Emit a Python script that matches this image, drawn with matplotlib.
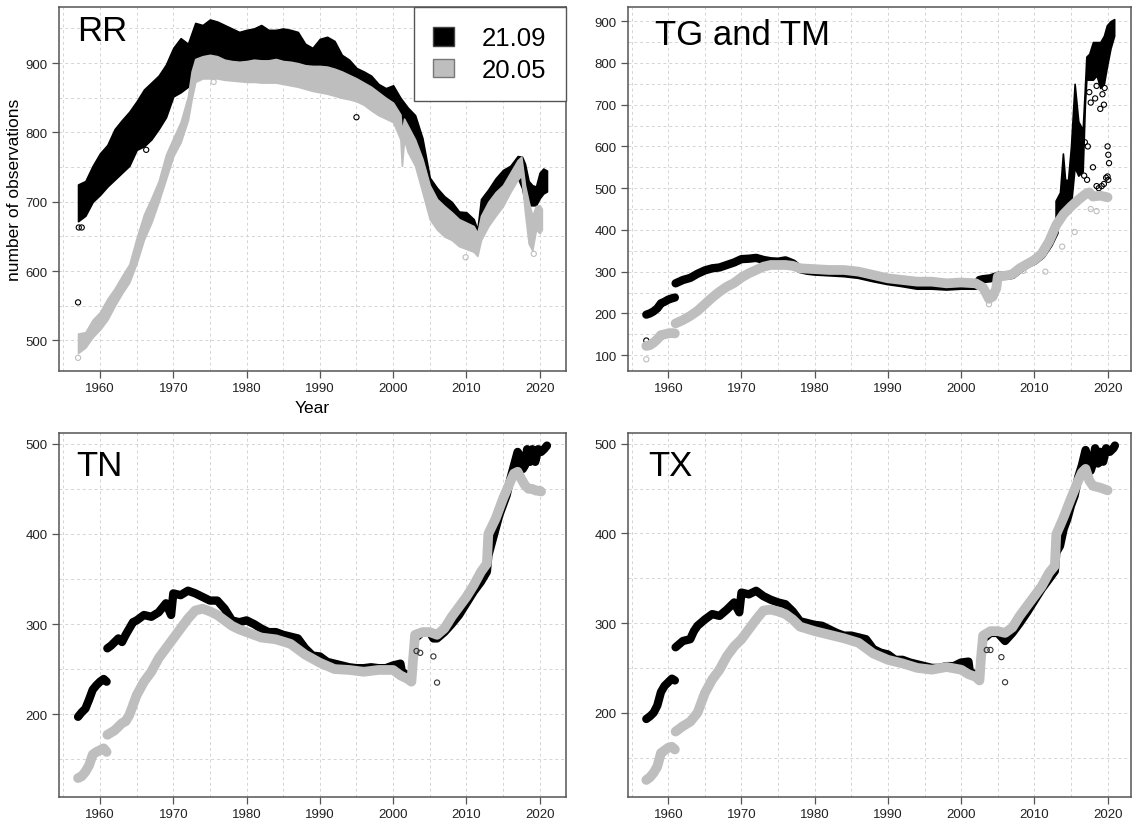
import matplotlib
matplotlib.use("Agg")
import matplotlib.pyplot as plt
from matplotlib.patches import Patch
import numpy as np

plt.rcParams["font.family"] = ["Liberation Sans", "DejaVu Sans"]

BLACK = "#000000"
GREY = "#bebebe"

# ---------------- RR : (year, upper, lower) ----------------
rr_2109 = [
    (1957.0, 725, 672), (1958, 730, 680), (1959, 752, 700), (1960, 770, 710),
    (1961, 782, 722), (1962, 805, 732), (1963, 818, 742), (1964, 830, 752),
    (1965, 845, 775), (1966, 862, 780), (1967, 872, 790), (1968, 882, 805),
    (1969, 898, 822), (1970, 922, 852), (1971, 936, 858), (1972, 928, 866),
    (1973, 958, 895), (1974, 955, 900), (1975, 963, 905), (1976, 960, 905),
    (1977, 955, 900), (1978, 950, 900), (1979, 945, 900), (1980, 948, 900),
    (1981, 950, 898), (1982, 955, 898), (1983, 948, 898), (1984, 948, 898),
    (1985, 950, 895), (1986, 948, 895), (1987, 945, 892), (1988, 928, 888),
    (1989, 922, 885), (1990, 935, 880), (1991, 938, 878), (1992, 932, 875),
    (1993, 912, 872), (1994, 905, 865), (1995, 893, 860), (1996, 888, 855),
    (1997, 882, 848), (1998, 870, 842), (1999, 864, 838), (2000, 868, 834),
    (2001, 850, 815), (2002, 836, 800), (2003, 825, 780), (2004, 792, 745),
    (2005, 735, 700), (2006, 720, 688), (2007, 708, 680), (2008, 700, 672),
    (2009, 686, 664), (2010, 685, 660), (2011, 675, 652), (2011.5, 660, 625),
    (2012, 704, 670), (2013, 718, 690), (2014, 734, 705), (2015, 746, 715),
    (2016, 752, 722), (2017, 766, 735), (2017.6, 765, 720), (2018, 755, 700),
    (2018.5, 730, 695), (2019, 724, 695), (2019.5, 722, 695), (2020, 742, 705),
    (2020.5, 748, 712), (2021, 745, 715),
]
rr_2005 = [
    (1957.0, 510, 482), (1958, 512, 490), (1959, 530, 505), (1960, 541, 516),
    (1961, 560, 530), (1962, 575, 550), (1963, 593, 568), (1964, 610, 584),
    (1965, 648, 612), (1966, 682, 646), (1967, 705, 670), (1968, 730, 700),
    (1969, 768, 733), (1970, 792, 766), (1971, 815, 786), (1972, 852, 818),
    (1972.5, 888, 848), (1973, 906, 873), (1974, 910, 878), (1975, 912, 878),
    (1976, 910, 878), (1977, 905, 876), (1978, 903, 875), (1979, 902, 874),
    (1980, 903, 873), (1981, 905, 873), (1982, 904, 872), (1983, 904, 872),
    (1984, 906, 872), (1985, 903, 870), (1986, 902, 868), (1987, 900, 866),
    (1988, 897, 863), (1989, 896, 860), (1990, 896, 858), (1991, 895, 856),
    (1992, 892, 853), (1993, 888, 850), (1994, 883, 848), (1995, 878, 845),
    (1996, 872, 840), (1997, 866, 832), (1998, 858, 825), (1999, 850, 820),
    (2000, 843, 815), (2001, 826, 790), (2001.2, 800, 752), (2001.5, 820, 790),
    (2002, 810, 772), (2003, 790, 752), (2004, 762, 714), (2005, 724, 675),
    (2006, 704, 660), (2007, 694, 650), (2008, 685, 645), (2009, 675, 636),
    (2010, 670, 632), (2011, 665, 628), (2011.5, 655, 622), (2012, 680, 645),
    (2013, 700, 665), (2014, 714, 680), (2015, 724, 694), (2016, 742, 714),
    (2017, 760, 732), (2017.5, 765, 738), (2018, 724, 685), (2018.5, 700, 640),
    (2019, 680, 630), (2019.5, 694, 660), (2020, 695, 655), (2020.3, 690, 660),
]
rr_odd_2109 = [(1957.0, 555), (1957.1, 663), (1957.5, 663), (1966.3, 775), (1995.0, 822)]
rr_odd_2005 = [(1957.0, 475), (2019.2, 625), (2009.9, 620), (1975.5, 873)]

# ---------------- TG and TM ----------------
tg_2109_a = [(1957.0, 197), (1957.5, 200), (1958, 205), (1958.5, 212), (1959, 224),
             (1959.5, 228), (1960, 233), (1960.5, 236), (1960.9, 238)]
tg_2109_b = [
    (1961.0, 272), (1962, 280), (1963, 285), (1964, 295), (1965, 303), (1966, 308),
    (1967, 310), (1968, 316), (1969, 322), (1970, 330), (1971, 331), (1972, 333),
    (1973, 328), (1974, 325), (1975, 324), (1976, 327), (1977, 320), (1978, 306),
    (1979, 302), (1980, 300), (1982, 298), (1984, 296), (1986, 292), (1988, 284),
    (1990, 277), (1992, 272), (1994, 266), (1996, 266), (1998, 264), (2000, 266),
    (2002, 266), (2002.5, 280), (2003, 282), (2004, 284), (2005, 290), (2006, 290),
    (2007, 292), (2008, 306), (2009, 318), (2010, 326), (2011, 340), (2012, 366),
    (2012.8, 395),
]
# spiky recent part: (year, upper, lower)
tg_2109_c = [
    (2012.9, 470, 420), (2013.5, 490, 430), (2013.9, 583, 440), (2014.2, 520, 440),
    (2014.6, 520, 440), (2015.0, 600, 460), (2015.5, 750, 550), (2016.0, 660, 530),
    (2016.6, 640, 540), (2016.9, 740, 700), (2017.1, 815, 760), (2017.5, 822, 760),
    (2018.0, 850, 760), (2018.5, 850, 770), (2019.0, 850, 740), (2019.5, 865, 750),
    (2019.9, 890, 790), (2020.4, 900, 835), (2020.9, 905, 865),
]
tg_odd_2109 = [
    (1957.0, 135), (2016.8, 530), (2017.2, 520), (2018.5, 505), (2018.8, 500),
    (2019.2, 505), (2019.5, 510), (2019.8, 525), (2020.0, 528), (2020.1, 520),
    (2017.5, 730), (2017.7, 705), (2018.3, 715), (2018.5, 745), (2019.0, 690),
    (2019.3, 725), (2019.5, 700), (2019.6, 740), (2020.0, 600), (2020.1, 580),
    (2020.2, 560), (2016.9, 610), (2017.3, 600), (2018.0, 550),
]
tg_2005_a = [(1957.0, 122), (1957.5, 124), (1958, 130), (1958.5, 138), (1959, 148),
             (1959.5, 150), (1960, 152), (1960.5, 153), (1960.9, 152)]
tg_2005_b = [
    (1961, 176), (1962, 184), (1963, 194), (1964, 206), (1965, 222), (1966, 238),
    (1967, 252), (1968, 264), (1969, 273), (1970, 286), (1971, 296), (1972, 304),
    (1973, 312), (1974, 316), (1975, 316), (1976, 316), (1977, 314), (1978, 308),
    (1980, 306), (1982, 304), (1984, 304), (1986, 300), (1988, 292), (1990, 284),
    (1992, 280), (1994, 276), (1996, 276), (1998, 272), (2000, 274), (2002, 272),
    (2003, 262), (2003.8, 235), (2004.3, 240), (2004.8, 260), (2005, 288),
    (2006, 290), (2007, 294), (2008, 308), (2009, 318), (2010, 328), (2011, 343),
    (2012, 372), (2012.5, 392), (2013, 412), (2014, 438), (2015, 456), (2016, 472),
    (2017, 486), (2017.5, 490), (2018, 480), (2019, 482), (2020, 478),
]
tg_odd_2005 = [(1957.0, 90), (2013.8, 360), (2011.5, 300), (2008.5, 302),
               (2017.7, 450), (2018.5, 445), (2015.5, 395), (2003.8, 222)]

# ---------------- TN ----------------
tn_2109_a = [(1957.0, 197), (1957.5, 202), (1958, 206), (1958.5, 216), (1959, 227),
             (1959.5, 232), (1960, 236), (1960.5, 239), (1960.9, 236)]
tn_2109_b = [
    (1961.0, 273), (1961.5, 276), (1962, 280), (1962.5, 284), (1963, 280),
    (1963.5, 288), (1964, 295), (1964.5, 302), (1965, 304), (1966, 310), (1967, 308),
    (1968, 313), (1969, 323), (1969.7, 310), (1970, 334), (1971, 332), (1972, 337),
    (1973, 334), (1974, 330), (1975, 326), (1976, 326), (1977, 317), (1978, 304),
    (1979, 302), (1980, 304), (1981, 300), (1982, 295), (1983, 291), (1984, 291),
    (1985, 288), (1986, 286), (1987, 284), (1988, 273), (1989, 265), (1990, 264),
    (1991, 258), (1992, 256), (1993, 254), (1994, 252), (1995, 251), (1996, 251),
    (1997, 252), (1998, 251), (1999, 251), (2000, 254), (2001, 256), (2001.2, 247),
    (2002, 243), (2002.5, 240),
]
tn_2109_c = [
    (2003.0, 284), (2004, 291), (2005, 291), (2005.5, 284), (2006, 284), (2007, 291),
    (2008, 300), (2009, 310), (2010, 323), (2011, 336), (2012, 347), (2012.8, 358),
    (2013.0, 376), (2013.5, 391), (2014, 406), (2014.5, 421), (2015, 432),
    (2015.5, 443), (2016, 461), (2016.5, 476), (2017, 491), (2017.3, 487),
    (2017.7, 472), (2018, 476), (2018.3, 494), (2018.7, 480), (2019, 494),
    (2019.4, 480), (2019.8, 494), (2020.2, 491), (2020.6, 494), (2021, 498),
]
tn_2005_a = [(1957.0, 129), (1957.5, 131), (1958, 136), (1958.5, 143), (1959, 155),
             (1959.5, 158), (1960, 160), (1960.5, 162), (1960.9, 158)]
tn_2005_b = [
    (1961, 177), (1962, 182), (1963, 190), (1963.5, 192), (1964, 199), (1965, 221),
    (1966, 236), (1967, 247), (1968, 262), (1969, 273), (1970, 284), (1971, 295),
    (1972, 306), (1973, 315), (1974, 317), (1975, 314), (1976, 310), (1977, 304),
    (1978, 298), (1979, 294), (1980, 291), (1982, 285), (1984, 283), (1986, 278),
    (1988, 266), (1990, 257), (1992, 250), (1994, 249), (1996, 247), (1998, 249),
    (2000, 249), (2001, 243), (2002, 239), (2002.5, 236), (2002.7, 258), (2003, 288),
    (2004, 291), (2005, 291), (2006, 288), (2007, 295), (2008, 308), (2009, 319),
    (2010, 330), (2011, 343), (2012, 358), (2012.8, 367), (2013.0, 400), (2014, 417),
    (2015, 439), (2016, 458), (2016.5, 467), (2017, 469), (2017.5, 461), (2018, 454),
    (2018.5, 450), (2019, 450), (2019.5, 448), (2020, 448), (2020.2, 447),
]
tn_odd_2109 = [(2005.5, 264), (2006.0, 235), (2003.2, 270), (2003.7, 268)]

# ---------------- TX ----------------
tx_2109_a = [(1957.0, 193), (1957.5, 196), (1958, 200), (1958.5, 208), (1959, 223),
             (1959.5, 230), (1960, 234), (1960.5, 238), (1960.9, 236)]
tx_2109_b = [
    (1961, 273), (1962, 280), (1963, 282), (1963.5, 291), (1964, 297), (1965, 304),
    (1966, 310), (1967, 308), (1968, 315), (1969, 323), (1969.7, 312), (1970, 334),
    (1971, 332), (1972, 336), (1973, 330), (1974, 326), (1975, 323), (1976, 321),
    (1977, 313), (1978, 302), (1979, 300), (1980, 298), (1981, 297), (1982, 293),
    (1983, 289), (1984, 286), (1985, 286), (1986, 284), (1987, 282), (1988, 271),
    (1989, 267), (1990, 265), (1991, 259), (1992, 259), (1993, 256), (1994, 254),
    (1995, 252), (1996, 250), (1997, 250), (1998, 252), (1999, 252), (2000, 256),
    (2001, 257), (2001.2, 245), (2002, 243), (2002.5, 239),
]
tx_2109_c = [
    (2003, 282), (2004, 289), (2005, 289), (2006, 280), (2007, 289), (2008, 300),
    (2009, 312), (2010, 325), (2011, 338), (2012, 349), (2012.8, 358), (2013, 379),
    (2013.5, 386), (2014, 405), (2014.5, 416), (2015, 431), (2015.5, 442),
    (2016, 463), (2016.5, 476), (2017, 493), (2017.3, 484), (2017.7, 470),
    (2018, 478), (2018.3, 495), (2018.7, 478), (2019, 491), (2019.4, 480),
    (2019.8, 495), (2020.3, 491), (2020.8, 495), (2021, 498),
]
tx_2005_a = [(1957.0, 125), (1957.5, 128), (1958, 133), (1958.5, 140), (1959, 155),
             (1959.5, 158), (1960, 161), (1960.5, 162), (1960.9, 159)]
tx_2005_b = [
    (1961, 179), (1962, 185), (1963, 190), (1964, 200), (1965, 222), (1966, 237),
    (1967, 248), (1968, 263), (1969, 274), (1970, 282), (1971, 293), (1972, 304),
    (1973, 314), (1974, 315), (1975, 313), (1976, 310), (1977, 304), (1978, 296),
    (1980, 291), (1982, 287), (1984, 283), (1986, 278), (1988, 266), (1990, 259),
    (1992, 255), (1994, 250), (1996, 248), (1998, 251), (2000, 248), (2001, 243),
    (2002, 240), (2002.5, 236), (2002.7, 260), (2003, 286), (2004, 291), (2005, 291),
    (2006, 289), (2007, 295), (2008, 308), (2009, 319), (2010, 330), (2011, 341),
    (2012, 356), (2012.8, 364), (2013, 399), (2014, 418), (2015, 439), (2016, 459),
    (2016.5, 468), (2017, 472), (2017.5, 459), (2018, 453), (2019, 451), (2020, 448),
]
tx_odd_2109 = [(2005.5, 262), (2006.0, 234), (2003.5, 270), (2004.0, 270)]

legend_labels = ["21.09", "20.05"]


def cols(rows):
    a = np.array(rows, dtype=float)
    return [a[:, i] for i in range(a.shape[1])]


def band(ax, rows, color, z):
    x, hi, lo = cols(rows)
    ax.fill_between(x, lo, hi, color=color, lw=1.2, edgecolor=color, zorder=z)


def thick(ax, rows, color, z, lw):
    x, y = cols(rows)
    ax.plot(x, y, color=color, lw=lw, solid_capstyle="round",
            solid_joinstyle="round", zorder=z)


def odd(ax, rows, color, z):
    x, y = cols(rows)
    ax.scatter(x, y, s=14, facecolors="none", edgecolors=color, linewidths=0.8, zorder=z)


def style(ax, xlim, ylim, yticks):
    ax.set_xlim(*xlim)
    ax.set_xticks(np.arange(1960, 2021, 10))
    ax.set_xticks(np.arange(1955, 2021, 5), minor=True)
    ax.set_yticks(yticks)
    ax.set_yticks(np.arange(yticks[0] - 50, yticks[-1] + 51, 50), minor=True)
    ax.set_ylim(*ylim)
    ax.grid(True, which="both", ls=(0, (3, 3)), color="#d4d4d4", lw=0.7)
    ax.set_axisbelow(True)
    for s in ax.spines.values():
        s.set_color("#555555")
        s.set_linewidth(1.1)
    ax.tick_params(which="major", direction="out", length=5, width=0.9,
                   color="#555555", labelsize=9.5, labelcolor="#222222", pad=3)
    ax.tick_params(which="minor", length=0)


W, H = 1132, 820
fig = plt.figure(figsize=(W / 100, H / 100), dpi=100)


def box(x0, y0, x1, y1):
    return fig.add_axes([x0 / W, 1 - y1 / H, (x1 - x0) / W, (y1 - y0) / H])


ax_rr = box(59, 8, 566, 372)
ax_tg = box(628, 8, 1131, 372)
ax_tn = box(59, 434, 566, 798)
ax_tx = box(628, 434, 1131, 798)

LW_K, LW_G = 6.0, 7.0

# RR
band(ax_rr, rr_2109, BLACK, 2)
odd(ax_rr, rr_odd_2109, BLACK, 2)
band(ax_rr, rr_2005, GREY, 3)
odd(ax_rr, rr_odd_2005, GREY, 3)
style(ax_rr, (1954.4, 2023.6), (456, 981), [500, 600, 700, 800, 900])
ax_rr.set_ylabel("number of observations", fontsize=12.5, labelpad=3)
ax_rr.set_xlabel("Year", fontsize=12.5, labelpad=4)
ax_rr.text(0.035, 0.935, "RR", transform=ax_rr.transAxes, fontsize=25,
           ha="left", va="center", zorder=6)
leg = ax_rr.legend(
    [Patch(facecolor=BLACK, edgecolor="#444444"), Patch(facecolor=GREY, edgecolor="#777777")],
    legend_labels, loc="upper right", bbox_to_anchor=(1, 1), borderaxespad=0,
    fontsize=18.5, fancybox=False, framealpha=1, edgecolor="#555555",
    handlelength=0.8, handleheight=0.75, handletextpad=1.1, borderpad=0.75,
    labelspacing=0.3)
leg.get_frame().set_linewidth(1.0)
leg.set_zorder(7)

# TG and TM
thick(ax_tg, tg_2109_a, BLACK, 2, LW_K)
thick(ax_tg, tg_2109_b, BLACK, 2, LW_K)
band(ax_tg, tg_2109_c, BLACK, 2)
odd(ax_tg, tg_odd_2109, BLACK, 2)
thick(ax_tg, tg_2005_a, GREY, 3, LW_G)
thick(ax_tg, tg_2005_b, GREY, 3, LW_G)
odd(ax_tg, tg_odd_2005, GREY, 3)
style(ax_tg, (1954.5, 2023.2), (62, 934), list(range(100, 901, 100)))
ax_tg.text(0.054, 0.925, "TG and TM", transform=ax_tg.transAxes, fontsize=25,
           ha="left", va="center", zorder=6)

# TN
thick(ax_tn, tn_2109_a, BLACK, 2, LW_K)
thick(ax_tn, tn_2109_b, BLACK, 2, LW_K)
thick(ax_tn, tn_2109_c, BLACK, 2, LW_K)
odd(ax_tn, tn_odd_2109, "#333333", 4)
thick(ax_tn, tn_2005_a, GREY, 3, LW_G)
thick(ax_tn, tn_2005_b, GREY, 3, LW_G)
style(ax_tn, (1954.4, 2023.6), (108, 512), [200, 300, 400, 500])
ax_tn.text(0.035, 0.91, "TN", transform=ax_tn.transAxes, fontsize=25,
           ha="left", va="center", zorder=6)

# TX
thick(ax_tx, tx_2109_a, BLACK, 2, LW_K)
thick(ax_tx, tx_2109_b, BLACK, 2, LW_K)
thick(ax_tx, tx_2109_c, BLACK, 2, LW_K)
odd(ax_tx, tx_odd_2109, "#333333", 4)
thick(ax_tx, tx_2005_a, GREY, 3, LW_G)
thick(ax_tx, tx_2005_b, GREY, 3, LW_G)
style(ax_tx, (1954.5, 2023.2), (106, 512), [200, 300, 400, 500])
ax_tx.text(0.04, 0.91, "TX", transform=ax_tx.transAxes, fontsize=25,
           ha="left", va="center", zorder=6)

fig.savefig("out.png", dpi=100)
